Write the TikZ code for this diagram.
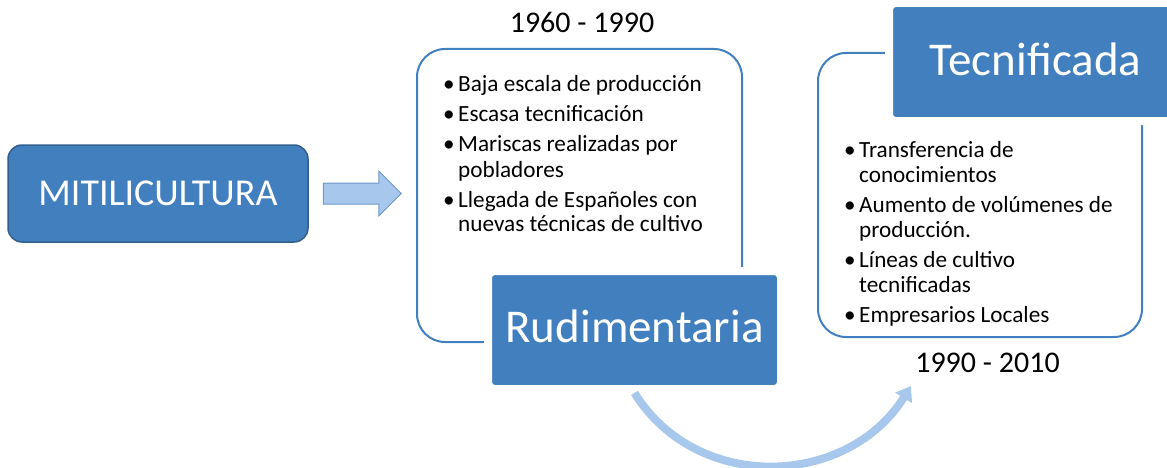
\documentclass[tikz,border=0pt]{standalone}
\usepackage{fontspec}
\setmainfont{Carlito}
\usetikzlibrary{arrows.meta,shapes.arrows,positioning}
\definecolor{smartblue}{RGB}{65,127,191}
\definecolor{smartdark}{RGB}{50,95,142}
\definecolor{lightblue}{RGB}{167,200,236}
\definecolor{lightedge}{RGB}{110,152,206}
\newcommand{\bl}{\makebox[11pt][l]{\hspace{-4pt}\textbullet}}
\begin{document}
\begin{tikzpicture}[x=1pt,y=1pt,
  main node/.style={rectangle,fill=smartblue,text=white,inner sep=0pt},
  stage node/.style={main node,rounded corners=7pt,draw=white,line width=8pt,minimum width=293pt,minimum height=118pt,font=\fontsize{47}{50}\selectfont},
  frame node/.style={rectangle,rounded corners=28pt,draw=smartblue,line width=2pt},
  list node/.style={anchor=base west,inner sep=0pt,font=\fontsize{23.2}{25}\selectfont},
  year node/.style={anchor=base,inner sep=0pt,font=\fontsize{30}{32}\selectfont}]
  \useasboundingbox (0,0) rectangle (1167,467);
  \node[main node,rounded corners=14pt,draw=smartdark,line width=1.5pt,minimum width=300pt,minimum height=97pt,font=\fontsize{38}{40}\selectfont] (mit) at (158,273.5) {MITILICULTURA};
  \node[single arrow,draw=lightedge,fill=lightblue,line width=1pt,minimum height=78pt,text height=10pt,text depth=10pt,text width=0pt,single arrow head extend=12pt,inner sep=0pt,right=14pt of mit] (arr) {};
  % first stage
  \node[frame node,minimum width=325pt,minimum height=293pt] (frame1) at (579.5,271.5) {};
  \node[year node] (yr1) at (582,434) {1960 - 1990};
  \node[list node] (list1) at (447,375) {\begin{tabular}[t]{@{}l@{}l@{}}
    \bl & Baja escala de producción\\[5pt]
    \bl & Escasa tecnificación\\[5pt]
    \bl & Mariscas realizadas por\\
        & pobladores\\[5pt]
    \bl & Llegada de Españoles con\\
        & nuevas técnicas de cultivo
  \end{tabular}};
  \node[stage node,text depth=8pt] (rud) at (634.5,137) {Rudimentaria};
  % second stage
  \node[frame node,minimum width=324pt,minimum height=284pt] (frame2) at (980,272) {};
  \node[stage node,text depth=6pt] (tec) at (1035.5,405) {Tecnificada};
  \node[year node] (yr2) at (987.5,95) {1990 - 2010};
  \node[list node] (list2) at (848,310) {\begin{tabular}[t]{@{}l@{}l@{}}
    \bl & Transferencia de\\
        & conocimientos\\[5pt]
    \bl & Aumento de volúmenes de\\
        & producción.\\[5pt]
    \bl & Líneas de cultivo\\
        & tecnificadas\\[5pt]
    \bl & Empresarios Locales
  \end{tabular}};
  \coordinate (tip) at (911,81);
  \draw[lightblue,line width=8pt,-{Triangle[width=19pt,length=14pt]}] (rud.south) to[out=-58,in=-122,looseness=1.1] (tip);
\end{tikzpicture}
\end{document}
